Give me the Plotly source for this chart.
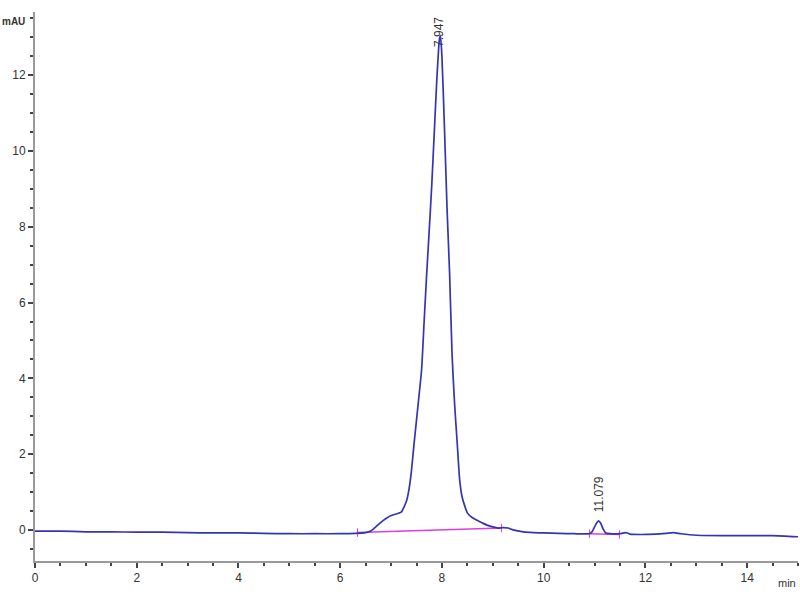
import plotly.graph_objects as go

# Chromatogram trace (time in min, signal in mAU)
time_min = [0, 0.5, 1, 1.5, 2, 2.5, 3, 3.5, 4, 4.5, 5, 5.5, 6, 6.3, 6.5, 6.6, 6.7, 6.8,
            6.9, 7.0, 7.1, 7.2, 7.3, 7.35, 7.4, 7.45, 7.5, 7.55, 7.6, 7.65, 7.7, 7.75,
            7.8, 7.85, 7.9, 7.95, 7.97, 8.0, 8.05, 8.1, 8.15, 8.2, 8.25, 8.3, 8.35, 8.4,
            8.5, 8.6, 8.7, 8.8, 8.9, 9.0, 9.1, 9.2, 9.3, 9.4, 9.6, 9.8, 10.0, 10.3,
            10.6, 10.9, 10.95, 11.0, 11.05, 11.08, 11.12, 11.17, 11.22, 11.3, 11.5,
            11.6, 11.65, 11.7, 11.9, 12.2, 12.4, 12.55, 12.7, 13.0, 13.5, 14.0, 14.5, 15.0]
signal_mau = [-0.03, -0.03, -0.05, -0.05, -0.06, -0.06, -0.07, -0.08, -0.08, -0.09, -0.1,
              -0.1, -0.1, -0.09, -0.07, -0.03, 0.08, 0.2, 0.3, 0.38, 0.42, 0.47, 0.75,
              1.05, 1.55, 2.25, 2.9, 3.55, 4.22, 5.5, 6.75, 7.9, 9.1, 10.5, 11.9, 12.95,
              13.05, 12.5, 10.6, 8.5, 6.8, 4.6, 3.3, 2.3, 1.3, 0.85, 0.45, 0.32, 0.25,
              0.18, 0.12, 0.08, 0.05, 0.06, 0.05, 0.0, -0.05, -0.07, -0.08, -0.09, -0.1,
              -0.1, -0.05, 0.08, 0.2, 0.24, 0.18, 0.02, -0.08, -0.1, -0.1, -0.07, -0.08,
              -0.11, -0.12, -0.11, -0.09, -0.07, -0.1, -0.14, -0.15, -0.15, -0.15, -0.18]

# Integration baselines
base1_t = [6.34, 9.17]
base1_y = [-0.07, 0.05]
base2_t = [10.9, 11.49]
base2_y = [-0.1, -0.12]

# Peak labels
peak_rt = [7.947, 11.079]
peak_label_y = [12.7, 0.4]
peak_labels = ["7.947", "11.079"]

x_ticks = [0, 2, 4, 6, 8, 10, 12, 14]
y_ticks = [0, 2, 4, 6, 8, 10, 12]

fig = go.Figure()
fig.add_trace(go.Scatter(x=base1_t, y=base1_y, mode="lines+markers",
                         line=dict(color="#e03ce0", width=1.5),
                         marker=dict(symbol="line-ns-open", size=6,
                                     line=dict(color="#222", width=1)),
                         showlegend=False, hoverinfo="skip"))
fig.add_trace(go.Scatter(x=base2_t, y=base2_y, mode="lines+markers",
                         line=dict(color="#e03ce0", width=1.5),
                         marker=dict(symbol="line-ns-open", size=6,
                                     line=dict(color="#222", width=1)),
                         showlegend=False, hoverinfo="skip"))
fig.add_trace(go.Scatter(x=time_min, y=signal_mau, mode="lines",
                         line=dict(color="#3434b4", width=1.7, shape="spline", smoothing=0.5),
                         showlegend=False))

for rt, ly, lab in zip(peak_rt, peak_label_y, peak_labels):
    fig.add_annotation(x=rt, y=ly, text=lab, textangle=-90, showarrow=False,
                       xanchor="center", yanchor="bottom",
                       font=dict(family="Liberation Sans", size=12, color="#333"))

fig.add_annotation(xref="paper", yref="paper", x=-0.028, y=0.982, text="<b>mAU</b>",
                   showarrow=False, xanchor="center", yanchor="middle",
                   font=dict(family="Liberation Sans", size=10, color="#333"))
fig.add_annotation(xref="paper", yref="paper", x=0.986, y=-0.04, text="min",
                   showarrow=False, xanchor="center", yanchor="middle",
                   font=dict(family="Liberation Sans", size=11, color="#333"))

axis_common = dict(showgrid=False, zeroline=False, showline=True, linecolor="#999",
                   linewidth=2, ticks="outside", ticklen=5, tickwidth=1.5, automargin=False,
                   tickcolor="#444", tickfont=dict(family="Liberation Sans", size=12, color="#333"))
fig.update_xaxes(range=[0, 15], tickvals=x_ticks, **axis_common,
                 minor=dict(dtick=0.5, ticks="outside", ticklen=3, tickcolor="#444", tickwidth=1.5))
fig.update_yaxes(range=[-0.82, 13.67], tickvals=y_ticks, **axis_common,
                 minor=dict(dtick=0.5, ticks="outside", ticklen=3, tickcolor="#444", tickwidth=1.5))

fig.update_layout(width=800, height=600, margin=dict(l=35, r=2, t=12, b=39),
                  plot_bgcolor="white", paper_bgcolor="white")

fig.write_html("out.html", config={"displayModeBar": False},
               post_script="document.body.style.margin='0';document.body.style.overflow='hidden';")
